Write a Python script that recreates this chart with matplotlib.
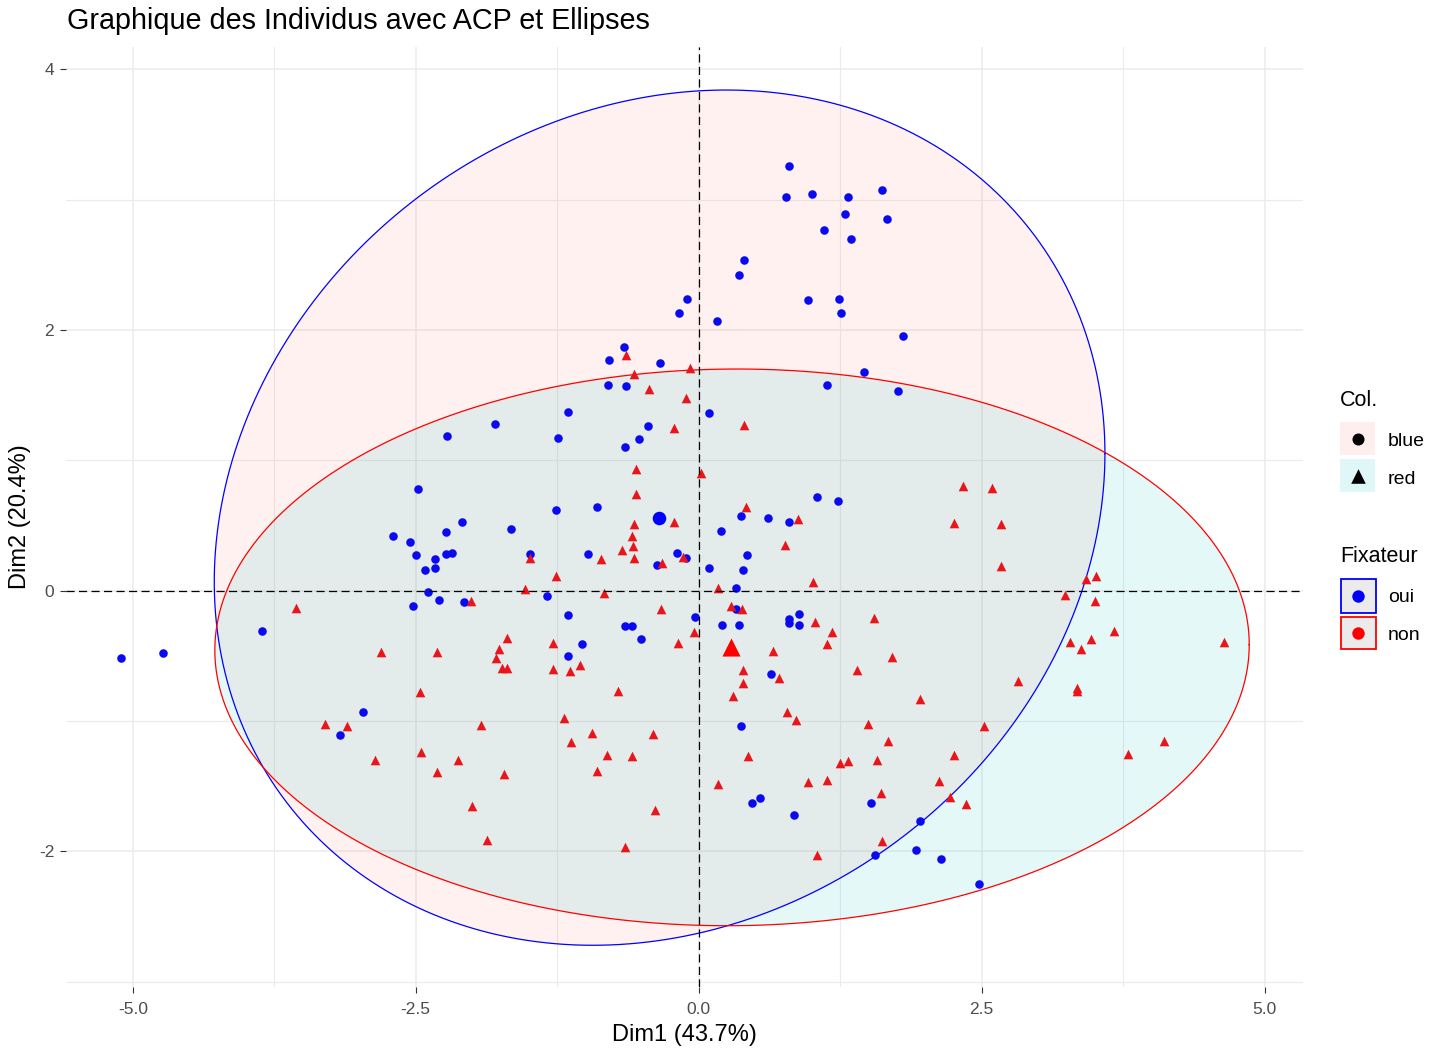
import numpy as np
import matplotlib
matplotlib.use("Agg")
import matplotlib.pyplot as plt
from matplotlib.patches import Rectangle

plt.rcParams['font.family'] = ['Liberation Sans', 'DejaVu Sans']

# ---------------- data ----------------
title = "Graphique des Individus avec ACP et Ellipses"
xlabel = "Dim1 (43.7%)"
ylabel = "Dim2 (20.4%)"

oui_x = [0.80, 0.77, 1.00, 1.32, 1.62, 1.29, 1.66, 1.11, 1.35, 0.40, 0.36, -0.10, -0.17, 0.16,
         0.97, 1.24, 1.26, 1.81, -0.66, -0.79, -0.34, 1.46, -0.80, -0.64, 1.13, 1.76, -1.15,
         -1.80, 0.09, -0.45, -0.53, -0.65, -1.24, -2.22, -1.26, -0.90, -1.66, 1.05, 1.23, 0.37,
         0.61, 0.80, 0.20, -1.49, -0.98, -0.19, -0.11, -0.37, 0.43, 0.39, 0.09, 0.33, -1.34,
         -1.15, -0.03, 0.33, -0.65, -0.59, 0.21, 0.36, 0.80, 0.80, 0.89, 0.89, -0.51, -1.03,
         -1.15, -2.48, -2.09, -2.70, -2.55, -2.23, -2.50, -2.33, -2.23, -2.18, -2.42, -2.33,
         -2.39, -2.29, -2.52, -2.07, -3.86, -4.73, -5.10, -2.97, -3.17, 0.64, 0.37, 0.47, 0.54,
         0.84, 1.52, 1.56, 1.96, 1.92, 2.14, 2.48]
oui_y = [3.26, 3.02, 3.04, 3.02, 3.07, 2.89, 2.85, 2.77, 2.70, 2.54, 2.42, 2.24, 2.13, 2.07,
         2.23, 2.24, 2.13, 1.95, 1.87, 1.77, 1.75, 1.68, 1.58, 1.57, 1.58, 1.53, 1.37,
         1.28, 1.36, 1.26, 1.16, 1.10, 1.17, 1.19, 0.62, 0.64, 0.47, 0.72, 0.69, 0.57,
         0.56, 0.53, 0.46, 0.28, 0.28, 0.29, 0.25, 0.20, 0.27, 0.16, 0.17, 0.02, -0.04,
         -0.19, -0.20, -0.14, -0.27, -0.27, -0.26, -0.26, -0.22, -0.25, -0.18, -0.26, -0.37, -0.41,
         -0.50, 0.78, 0.53, 0.42, 0.37, 0.45, 0.27, 0.24, 0.28, 0.29, 0.16, 0.17,
         -0.01, -0.07, -0.12, -0.09, -0.31, -0.48, -0.52, -0.93, -1.11, -0.64, -1.04, -1.63, -1.59,
         -1.72, -1.63, -2.03, -1.77, -1.99, -2.06, -2.25]

non_x = [-0.64, -0.57, -0.08, -0.44, -0.11, -0.22, 0.40, -0.55, 0.02, -0.55, 0.42, -0.22, 0.88,
         -0.57, -0.59, -0.68, -0.58, -0.57, -0.86, -0.32, -0.14, 0.76, -1.49, -1.26, -1.53,
         -0.84, 0.17, 1.01, 0.29, 0.38, -0.33, 1.03, 1.18, 1.55, -0.04, -0.18, 1.13, 0.66,
         -1.69, -1.29, -1.76, -1.79, -3.56, -2.01, -2.81, -2.31, -2.46, -3.30, -3.11, -1.92,
         -2.45, -2.86, -2.13, -2.31, -2.00, -1.87, -1.74, -1.69, -1.29, -1.14, -1.05, 1.40,
         0.39, 0.71, 0.39, -0.71, 0.30, 0.78, 0.86, 1.50, -1.19, -0.94, -1.13, -0.40, -0.81,
         -0.59, -0.90, 0.44, 1.25, 1.32, 1.58, -1.72, 0.17, 0.97, 1.13, -0.39, -0.65, 1.05,
         3.28, 3.47, 3.38, 4.64, 1.71, 2.82, 3.34, 3.34, 1.96, 2.52, 1.67, 2.26, 3.79, 4.11,
         2.12, 1.61, 2.22, 2.36, 1.62, 2.34, 2.59, 2.26, 2.67, 2.67, 3.42, 3.51, 3.24, 3.50,
         3.67]
non_y = [1.81, 1.66, 1.71, 1.55, 1.48, 1.25, 1.27, 0.93, 0.90, 0.74, 0.64, 0.53, 0.55,
         0.51, 0.42, 0.31, 0.34, 0.25, 0.24, 0.21, 0.26, 0.35, 0.25, 0.11, 0.01,
         -0.02, 0.02, 0.07, -0.12, -0.14, -0.14, -0.24, -0.32, -0.21, -0.32, -0.40, -0.41, -0.46,
         -0.36, -0.40, -0.45, -0.52, -0.13, -0.08, -0.47, -0.47, -0.78, -1.02, -1.04, -1.03,
         -1.24, -1.30, -1.30, -1.39, -1.65, -1.91, -0.59, -0.59, -0.60, -0.62, -0.57, -0.61,
         -0.61, -0.67, -0.71, -0.77, -0.81, -0.93, -0.99, -1.02, -0.98, -1.09, -1.16, -1.10, -1.26,
         -1.27, -1.38, -1.27, -1.32, -1.31, -1.30, -1.41, -1.48, -1.47, -1.45, -1.68, -1.97, -2.03,
         -0.39, -0.37, -0.45, -0.39, -0.51, -0.69, -0.75, -0.77, -0.83, -1.04, -1.15, -1.26, -1.25, -1.15,
         -1.46, -1.55, -1.58, -1.64, -1.92, 0.80, 0.79, 0.52, 0.51, 0.19, 0.09, 0.11, -0.03, -0.08,
         -0.31]

# group means (barycentres)
groups = ["oui", "non"]
group_cx = [-0.35, 0.29]
group_cy = [0.56, -0.43]
# ellipse: centre, half extents along x / y, correlation
ell_cx = [-0.345, 0.295]
ell_cy = [0.56, -0.435]
ell_hx = [3.935, 4.57]
ell_hy = [3.28, 2.135]
ell_rho = [0.15, 0.01]

col_levels = ["blue", "red"]
# --------------------------------------

W, H = 1441, 1049
fig = plt.figure(figsize=(W / 100, H / 100), dpi=100)
ax = fig.add_axes([66 / W, 1 - 987 / H, (1303 - 66) / W, (987 - 47) / H])
ax.set_xlim(-5.59, 5.34)
ax.set_ylim(-3.04, 4.17)
for s in ax.spines.values():
    s.set_visible(False)

ax.set_xticks([-5, -2.5, 0, 2.5, 5])
ax.set_xticklabels(["-5.0", "-2.5", "0.0", "2.5", "5.0"])
ax.set_xticks([-3.75, -1.25, 1.25, 3.75], minor=True)
ax.set_yticks([-2, 0, 2, 4])
ax.set_yticklabels(["-2", "0", "2", "4"])
ax.set_yticks([-3, -1, 1, 3], minor=True)
ax.grid(which='major', color='#EBEBEB', lw=1.1, zorder=0)
ax.grid(which='minor', color='#EBEBEB', lw=0.8, zorder=0)
ax.set_axisbelow(True)
ax.tick_params(which='major', length=4.5, width=0.8, color='#333333',
               labelsize=12.5, labelcolor='#4D4D4D')
ax.tick_params(axis='x', pad=6)
ax.tick_params(axis='y', pad=4)
ax.tick_params(which='minor', length=0)

edge_cols = ['#0000FF', '#FF0000']
fill_cols = ['#F8766D', '#00BFC4']
t = np.linspace(0, 2 * np.pi, 300)
for i in range(2):
    ex = ell_cx[i] + ell_hx[i] * np.cos(t)
    ey = ell_cy[i] + ell_hy[i] * (ell_rho[i] * np.cos(t) + np.sqrt(1 - ell_rho[i] ** 2) * np.sin(t))
    ax.fill(ex, ey, color=fill_cols[i], alpha=0.1, lw=0, zorder=1)
    ax.plot(ex, ey, color=edge_cols[i], lw=0.9, zorder=2)

ax.scatter(oui_x, oui_y, s=38, marker='o', color='#0A0AF0', lw=0, zorder=3)
ax.scatter(non_x, non_y, s=48, marker='^', color='#E8161B', lw=0, zorder=3)
ax.scatter([group_cx[0]], [group_cy[0]], s=95, marker='o', color='#0000FF', lw=0, zorder=4)
ax.scatter([group_cx[1]], [group_cy[1]], s=170, marker='^', color='#FF0000', lw=0, zorder=4)

ax.axhline(0, color='black', lw=0.9, ls=(0, (6.5, 3.5)), zorder=5)
ax.axvline(0, color='black', lw=0.9, ls=(0, (6.5, 3.5)), zorder=5)

# titles
fig.text(67 / W, 1 - 21 / H, title, fontsize=20.7, ha='left', va='center', color='black')
fig.text(684.5 / W, 1 - 1035 / H, xlabel, fontsize=17, ha='center', va='center', color='black')
fig.text(20 / W, 1 - 517 / H, ylabel, fontsize=17, ha='center', va='center',
         rotation=90, color='black')

# legend (pixel coordinates)
lg = fig.add_axes([0, 0, 1, 1], zorder=10)
lg.set_xlim(0, W)
lg.set_ylim(H, 0)
lg.axis('off')
lg.patch.set_alpha(0)

lg.text(1340, 401, "Col.", fontsize=15.5, ha='left', va='center')
lg.add_patch(Rectangle((1339.5, 422), 35.5, 32.5, facecolor=fill_cols[0], alpha=0.12, lw=0))
lg.add_patch(Rectangle((1339.5, 458.5), 35.5, 33, facecolor=fill_cols[1], alpha=0.12, lw=0))
lg.scatter([1357.5], [438.5], s=75, marker='o', color='black', lw=0)
lg.scatter([1357.5], [475.5], s=110, marker='^', color='black', lw=0)
lg.text(1388, 442, col_levels[0], fontsize=14, ha='left', va='center')
lg.text(1388, 479, col_levels[1], fontsize=14, ha='left', va='center')

lg.text(1340, 556, "Fixateur", fontsize=15.5, ha='left', va='center')
lg.add_patch(Rectangle((1340.5, 579), 35.5, 33.5, facecolor='#EBEBEB', edgecolor=edge_cols[0], lw=1.3))
lg.add_patch(Rectangle((1340.5, 616.5), 35.5, 32.5, facecolor='#EBEBEB', edgecolor=edge_cols[1], lw=1.3))
lg.scatter([1358], [596], s=80, marker='o', color=edge_cols[0], lw=0)
lg.scatter([1358], [633], s=80, marker='o', color=edge_cols[1], lw=0)
lg.text(1388, 598, groups[0], fontsize=14, ha='left', va='center')
lg.text(1388, 636, groups[1], fontsize=14, ha='left', va='center')

fig.savefig("out.png", dpi=100)
